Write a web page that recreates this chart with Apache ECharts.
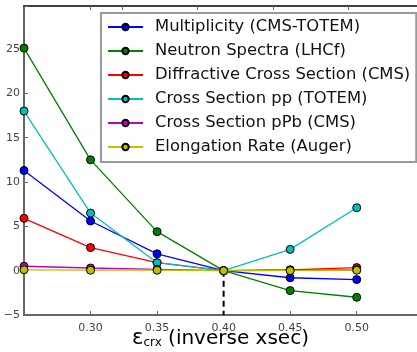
<!DOCTYPE html>
<html>
<head>
<meta charset="utf-8">
<script src="https://cdn.jsdelivr.net/npm/echarts@6/dist/echarts.min.js"></script>
<style>
  html, body { margin: 0; padding: 0; background: #fff; }
  #chart { width: 417px; height: 352px; }
</style>
</head>
<body>
<div id="chart"></div>
<script>
// epsilon_crx values
const xValues = [0.25, 0.30, 0.35, 0.40, 0.45, 0.50];

const seriesNames = [
  'Multiplicity (CMS-TOTEM)',
  'Neutron Spectra (LHCf)',
  'Diffractive Cross Section (CMS)',
  'Cross Section pp (TOTEM)',
  'Cross Section pPb (CMS)',
  'Elongation Rate (Auger)'
];
const multiplicity = [11.3, 5.6, 1.9, 0, -0.8, -1.0];
const neutron      = [25.1, 12.5, 4.4, 0, -2.25, -3.0];
const diffractive  = [5.9, 2.6, 0.9, 0, 0.1, 0.35];
const xsecPP       = [18.0, 6.5, 0.9, 0, 2.4, 7.1];
const xsecPPb      = [0.5, 0.3, 0.15, 0, 0.05, 0.1];
const elongation   = [0.1, 0.05, 0.05, 0, 0.0, 0.05];
const seriesColors = ['#0000ff', '#008000', '#ff0000', '#00bfbf', '#bf00bf', '#bfbf00'];

// reference line at the nominal value
const refX = 0.40;
const refY = [0, -5];

// odd tick marks on the top frame
const topTicks = [0.3, 0.3235, 0.380, 0.437, 0.4935];

(function(){
  const chart = echarts.init(document.getElementById('chart'), null, { renderer: 'canvas' });
  const allValues = [multiplicity, neutron, diffractive, xsecPP, xsecPPb, elongation];

  const series = allValues.map((vals, i) => ({
    name: seriesNames[i],
    type: 'line',
    data: xValues.map((x, j) => [x, vals[j]]),
    symbol: 'circle',
    symbolSize: 8,
    lineStyle: { color: seriesColors[i], width: 1.3 },
    itemStyle: { color: seriesColors[i], borderColor: '#000', borderWidth: 1 },
    z: 3 + i
  }));

  series.push({
    type: 'line',
    data: refY.map(y => [refX, y]),
    symbol: 'none',
    lineStyle: { color: '#000', width: 2, type: [6, 4] },
    z: 2,
    silent: true
  });

  const font = 'DejaVu Sans';

  chart.setOption({
    animation: false,
    grid: { left: 24, right: 0, top: 6, bottom: 37, containLabel: false, outerBoundsMode: 'none' },
    legend: {
      data: seriesNames,
      orient: 'vertical',
      left: 101,
      top: 13,
      padding: [6, 6, 7, 6],
      itemWidth: 35,
      itemHeight: 8,
      itemGap: 8,
      backgroundColor: '#fff',
      borderColor: '#999',
      borderWidth: 2,
      textStyle: { fontFamily: font, fontSize: 16.4, lineHeight: 16, color: '#111', padding: [0, 0, 0, 7] }
    },
    xAxis: [{
      type: 'value',
      min: 0.25,
      max: 0.5453,
      interval: 0.05,
      splitLine: { show: false },
      axisLine: { onZero: false, lineStyle: { color: '#666', width: 2 } },
      axisTick: { inside: true, length: 4, lineStyle: { color: '#666' } },
      axisLabel: {
        fontFamily: font, fontSize: 11, color: '#444', margin: 8,
        formatter: v => (v < 0.27 || v > 0.52 ? '' : v.toFixed(2))
      },
      name: '{e|ε}{s|crx}{n| (inverse xsec)}',
      nameLocation: 'middle',
      nameGap: 13,
      nameMoveOverlap: false,
      nameTextStyle: {
        rich: {
          e: { fontFamily: font, fontSize: 21, color: '#000' },
          s: { fontFamily: font, fontSize: 12, color: '#000', verticalAlign: 'bottom', padding: [8, 0, 0, 0] },
          n: { fontFamily: font, fontSize: 20, color: '#000' }
        }
      }
    }, {
      type: 'value',
      position: 'top',
      min: 0.25,
      max: 0.5453,
      splitLine: { show: false },
      axisLine: { onZero: false, lineStyle: { color: '#000', width: 1.5 } },
      axisTick: { inside: true, length: 4, customValues: topTicks, lineStyle: { color: '#666' } },
      axisLabel: { show: false }
    }],
    yAxis: {
      type: 'value',
      min: -5,
      max: 29.85,
      interval: 5,
      splitLine: { show: false },
      axisLine: { show: true, onZero: false, lineStyle: { color: '#666', width: 2 } },
      axisTick: { show: true, inside: true, length: 4, lineStyle: { color: '#666' } },
      axisLabel: {
        fontFamily: font, fontSize: 11, color: '#444', margin: 4,
        formatter: v => (v > 26 ? '' : (v < 0 ? '\u2212' + Math.abs(v) : String(v)))
      }
    },
    series: series
  });
})();
</script>
</body>
</html>
